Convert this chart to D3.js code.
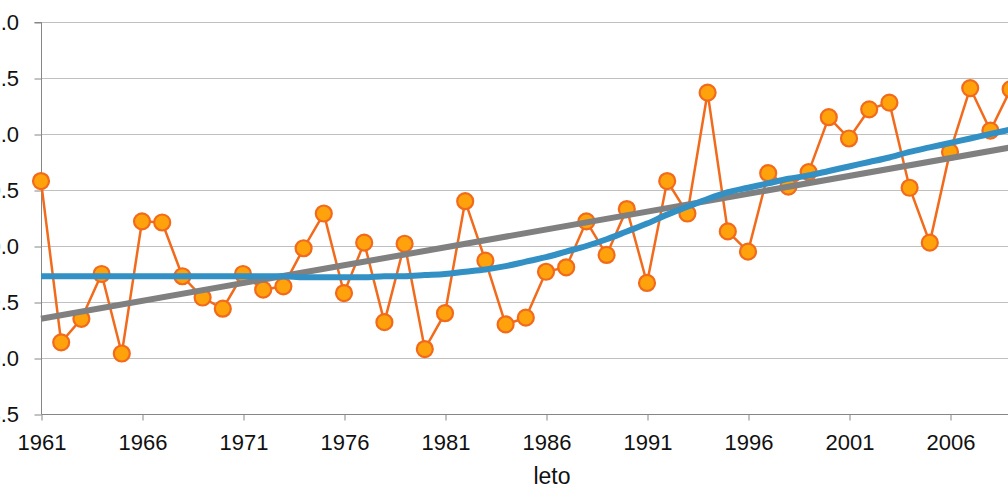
<!DOCTYPE html>
<html>
<head>
<meta charset="utf-8">
<script src="https://cdn.jsdelivr.net/npm/d3@7"></script>
<style>
  html, body { margin: 0; padding: 0; background: #fff; overflow: hidden; }
  svg { display: block; font-family: "Liberation Sans", Arial, sans-serif; }
</style>
</head>
<body>
<div id="chart"></div>
<script>
// annual values
const years = d3.range(1961, 2010)
const values = [
  10.58, 9.14, 9.35, 9.75, 9.04, 10.22, 10.21, 9.73, 9.54, 9.44,
  9.75, 9.61, 9.64, 9.98, 10.29, 9.58, 10.03, 9.32, 10.02, 9.08,
  9.40, 10.40, 9.87, 9.30, 9.36, 9.77, 9.81, 10.22, 9.92, 10.33,
  9.67, 10.58, 10.29, 11.37, 10.13, 9.95, 10.65, 10.53, 10.66, 11.15,
  10.96, 11.22, 11.28, 10.52, 10.03, 10.84, 11.41, 11.03, 11.40
]

// smoothed curve (blue)
const smoothValues = [
  9.73, 9.73, 9.73, 9.73, 9.73, 9.73, 9.73, 9.73, 9.73, 9.73,
  9.73, 9.73, 9.73, 9.72, 9.72, 9.72, 9.72, 9.73, 9.73, 9.74,
  9.75, 9.77, 9.79, 9.82, 9.86, 9.90, 9.95, 10.00, 10.06, 10.13,
  10.20, 10.28, 10.35, 10.42, 10.48, 10.52, 10.56, 10.60, 10.63, 10.67,
  10.71, 10.75, 10.79, 10.84, 10.88, 10.92, 10.96, 11.00, 11.04
]

// linear trend (grey), end points
const trendYears = [1961, 2009]
const trendValues = [9.35, 10.88]

const yTicks = [8.5, 9.0, 9.5, 10.0, 10.5, 11.0, 11.5, 12.0]
const xTicks = [1961, 1966, 1971, 1976, 1981, 1986, 1991, 1996, 2001, 2006]
const xLabel = "leto"

const width = 1008
const height = 504

const svg = d3.select("#chart")
  .append("svg")
  .attr("width", width)
  .attr("height", height)

let x = d3.scaleLinear().domain([1961, 2009]).range([41, 1010.6])
let y = d3.scaleLinear().domain([8.5, 12.0]).range([414, 22])

// grid lines
svg.append("g")
  .selectAll("line")
  .data(yTicks.slice(1))
  .join("line")
  .attr("x1", 41)
  .attr("x2", width)
  .attr("y1", d => Math.round(y(d)) + 0.5)
  .attr("y2", d => Math.round(y(d)) + 0.5)
  .attr("stroke", "#c0c0c0")
  .attr("stroke-width", 1)

// y axis (labels run off the left edge, as in the source image)
let yAxis = d3.axisLeft(y)
  .tickValues(yTicks)
  .tickSize(7)
  .tickPadding(15.5)
  .tickFormat(d3.format(".1f"))

svg.append("g")
  .attr("transform", "translate(41.5,0.5)")
  .call(yAxis)
  .call(g => g.select(".domain").attr("stroke", "#868686").attr("d", `M-7,${y(12)}H0V${y(8.5)}`))
  .call(g => g.selectAll(".tick line").attr("stroke", "#868686"))
  .call(g => g.selectAll(".tick text")
    .attr("fill", "#111")
    .style("font-size", "22px")
    .style("font-family", "'Liberation Sans', Arial, sans-serif"))

// x axis
let xAxis = d3.axisBottom(x)
  .tickValues(xTicks)
  .tickSize(6)
  .tickPadding(14)
  .tickFormat(d3.format("d"))

svg.append("g")
  .attr("transform", `translate(0.5,${Math.round(y(8.5)) + 0.5})`)
  .call(xAxis)
  .call(g => g.select(".domain").attr("stroke", "#868686").attr("d", `M41,0H${width}`))
  .call(g => g.selectAll(".tick line").attr("stroke", "#868686"))
  .call(g => g.selectAll(".tick text")
    .attr("fill", "#111")
    .style("font-size", "22px")
    .style("font-family", "'Liberation Sans', Arial, sans-serif"))

svg.append("text")
  .text(xLabel)
  .attr("x", 552)
  .attr("y", 484)
  .attr("text-anchor", "middle")
  .attr("fill", "#111")
  .style("font-size", "23px")

// data series
const data = years.map((yr, i) => ({ year: yr, value: values[i] }))

let line = d3.line()
  .x(d => x(d.year))
  .y(d => y(d.value))

svg.append("path")
  .datum(data)
  .attr("d", line)
  .attr("fill", "none")
  .attr("stroke", "#f26a1b")
  .attr("stroke-width", 2.5)

svg.append("g")
  .selectAll("circle")
  .data(data)
  .join("circle")
  .attr("cx", d => x(d.year))
  .attr("cy", d => y(d.value))
  .attr("r", 8)
  .attr("fill", "#ffa20c")
  .attr("stroke", "#f26a1b")
  .attr("stroke-width", 2.2)

// trend lines on top
const trend = trendYears.map((yr, i) => ({ year: yr, value: trendValues[i] }))
svg.append("path")
  .datum(trend)
  .attr("d", line)
  .attr("fill", "none")
  .attr("stroke", "#808080")
  .attr("stroke-width", 6)

const smooth = years.map((yr, i) => ({ year: yr, value: smoothValues[i] }))
svg.append("path")
  .datum(smooth)
  .attr("d", line.curve(d3.curveMonotoneX))
  .attr("fill", "none")
  .attr("stroke", "#3290c4")
  .attr("stroke-width", 6)
</script>
</body>
</html>
